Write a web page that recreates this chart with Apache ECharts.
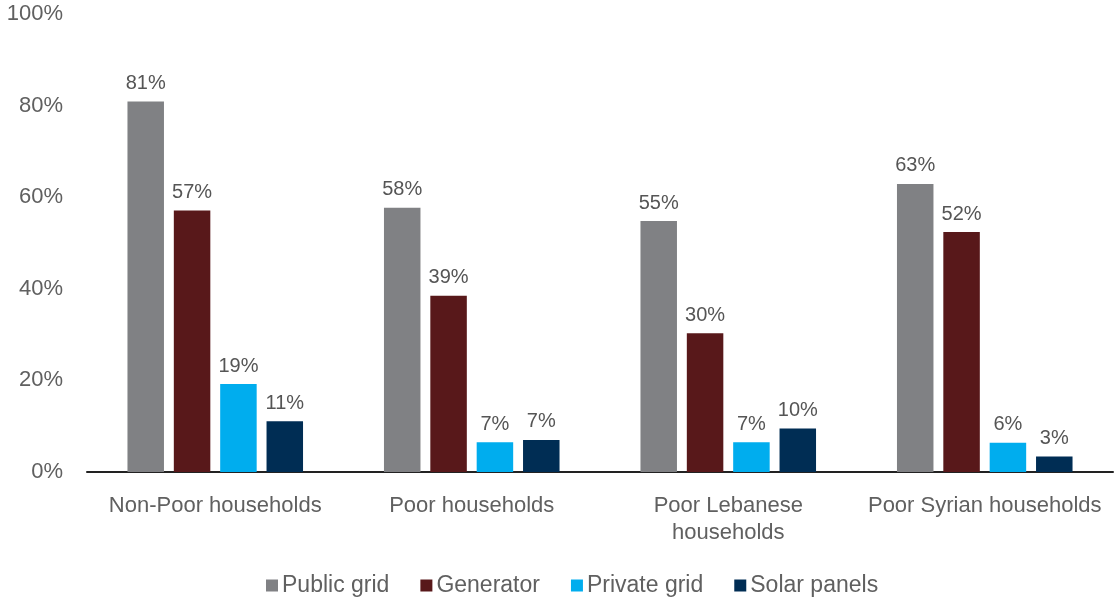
<!DOCTYPE html>
<html>
<head>
<meta charset="utf-8">
<script src="https://cdn.jsdelivr.net/npm/echarts@6/dist/echarts.min.js"></script>
<style>
html,body{margin:0;padding:0;background:#fff;}
#chart{width:1114px;height:599px;}
</style>
</head>
<body>
<div id="chart"></div>
<script>
const categories = ["Non-Poor households", "Poor households", "Poor Lebanese\nhouseholds", "Poor Syrian households"];
const seriesNames = ["Public grid", "Generator", "Private grid", "Solar panels"];
const publicGrid = [80.9, 57.7, 54.8, 62.9];
const generator = [57.1, 38.5, 30.3, 52.4];
const privateGrid = [19.2, 6.5, 6.5, 6.4];
const solarPanels = [11.1, 7.0, 9.5, 3.4];
const yTicks = [0, 20, 40, 60, 80, 100];

const colors = ["#808184", "#58181a", "#00adee", "#002d54"];
const allData = [publicGrid, generator, privateGrid, solarPanels];
const FONT = "'Liberation Sans', Arial, sans-serif";
const TXT = "#606060";

const chart = echarts.init(document.getElementById('chart'), null, {renderer: 'canvas'});
chart.setOption({
  animation: false,
  backgroundColor: '#fff',
  grid: {left: 87, right: 1, top: 14, bottom: 127, containLabel: false},
  legend: {
    top: 574,
    left: 266,
    padding: 0,
    itemWidth: 12, itemHeight: 12, itemGap: 31,
    icon: 'rect',
    textStyle: {fontFamily: FONT, fontSize: 23, color: TXT, padding: [0,0,0,-1]},
    data: seriesNames
  },
  xAxis: {
    type: 'category',
    data: categories,
    axisLine: {show: true, lineStyle: {color: '#222', width: 2}},
    axisTick: {show: false},
    axisLabel: {fontFamily: FONT, fontSize: 22, color: TXT, margin: 20, lineHeight: 27, interval: 0}
  },
  yAxis: {
    type: 'value',
    min: yTicks[0], max: yTicks[yTicks.length-1], interval: 20,
    splitLine: {show: false},
    axisLine: {show: false},
    axisTick: {show: false},
    axisLabel: {fontFamily: FONT, fontSize: 22, color: TXT, margin: 24, formatter: v => v + '%'}
  },
  series: seriesNames.map((name, i) => ({
    name: name,
    type: 'bar',
    data: allData[i],
    barWidth: 36.5,
    barGap: '27%',
    itemStyle: {color: colors[i]},
    label: {
      show: true, position: 'top', distance: 8,
      fontFamily: FONT, fontSize: 20, color: '#555',
      formatter: p => Math.round(p.value) + '%'
    }
  }))
});
</script>
</body>
</html>
